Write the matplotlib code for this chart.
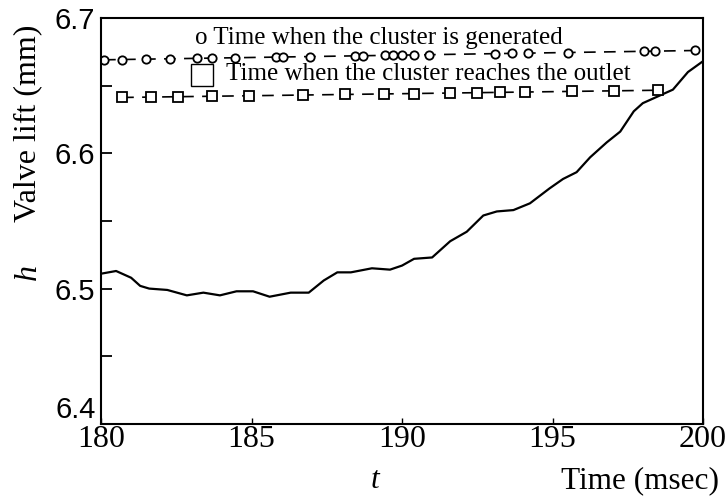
import matplotlib
matplotlib.use('Agg')
import matplotlib.pyplot as plt

# valve lift curve
t = [180.0, 180.5, 181.0, 181.3, 181.6, 182.2, 182.85, 183.4, 183.95, 184.5,
     185.05, 185.6, 186.3, 186.9, 187.4, 187.85, 188.3, 189.0, 189.6, 190.0,
     190.4, 191.0, 191.6, 192.15, 192.7, 193.15, 193.7, 194.25, 194.9, 195.35,
     195.8, 196.25, 196.8, 197.25, 197.7, 198.0, 198.5, 199.0, 199.5, 200.0]
h = [6.511, 6.513, 6.508, 6.502, 6.500, 6.499, 6.495, 6.497, 6.495, 6.498,
     6.498, 6.494, 6.497, 6.497, 6.506, 6.512, 6.512, 6.515, 6.514, 6.517,
     6.522, 6.523, 6.535, 6.542, 6.554, 6.557, 6.558, 6.563, 6.574, 6.581,
     6.586, 6.597, 6.608, 6.616, 6.631, 6.637, 6.642, 6.647, 6.660, 6.668]

# time when the cluster is generated
t_gen = [180.1, 180.7, 181.5, 182.3, 183.2, 183.7, 184.45, 185.8, 186.05, 186.95,
         188.45, 188.7, 189.45, 189.7, 190.0, 190.4, 190.9, 193.1, 193.65, 194.2,
         195.5, 198.05, 198.4, 199.75]
gen_level = [6.669, 6.676]

# time when the cluster reaches the outlet
t_out = [180.7, 181.65, 182.55, 183.7, 184.9, 186.7, 188.1, 189.4, 190.4, 191.6,
         192.5, 193.25, 194.1, 195.65, 197.05, 198.5]
out_level = [6.641, 6.647]

xticks = [180, 185, 190, 195, 200]
yticks = [6.4, 6.5, 6.6, 6.7]


def level(ts, lv):
    return [lv[0] + (x - 180) / 20 * (lv[1] - lv[0]) for x in ts]


serif = 'Liberation Serif'
fig = plt.figure(figsize=(7.27, 4.97), dpi=100)
ax = fig.add_axes([0.139, 0.147, 0.828, 0.817])

ax.plot(t, h, color='black', lw=1.6)
ax.plot(t_gen, level(t_gen, gen_level), color='black', lw=1.2, ls=(0, (7, 5)),
        marker='o', ms=6, mfc='white', mec='black', mew=1.3)
ax.plot(t_out, level(t_out, out_level), color='black', lw=1.2, ls=(0, (7, 5)),
        marker='s', ms=6.5, mfc='white', mec='black', mew=1.3)

ax.set_xlim(180, 200)
ax.set_ylim(6.4, 6.7)
ax.set_xticks(xticks)
ax.set_yticks(yticks)
ax.set_yticks([6.45, 6.55, 6.65], minor=True)
ax.set_yticklabels([str(v) for v in yticks], family='Liberation Sans', fontsize=21)
ax.set_xticklabels([str(v) for v in xticks], family=serif, fontsize=23)
ax.get_yticklabels()[0].set_va('bottom')
ax.tick_params(axis='y', which='both', direction='in', length=8, width=1.3, pad=4)
ax.tick_params(axis='x', direction='in', length=4, width=1.0, pad=1)
for s in ax.spines.values():
    s.set_linewidth(1.5)

# axis captions
fig.text(28 / 727, 1 - 123 / 497, 'Valve lift (mm)', rotation=90, ha='center',
         va='center', family=serif, fontsize=23)
fig.text(28 / 727, 1 - 272 / 497, 'h', rotation=90, ha='center', va='center',
         family=serif, style='italic', fontsize=23)
fig.text(640 / 727, 1 - 481 / 497, 'Time (msec)', ha='center', va='center',
         family=serif, fontsize=22.5)
fig.text(375 / 727, 1 - 481 / 497, 't', ha='center', va='center',
         family=serif, style='italic', fontsize=22.5)

# legend texts inside the plot
fig.text(195 / 727, 1 - 38 / 497, 'o Time when the cluster is generated',
         ha='left', va='center', family=serif, fontsize=18)
ax.plot([0.168], [0.86], transform=ax.transAxes, marker='s', ms=16,
        mfc='white', mec='black', mew=1.0, ls='none')
fig.text(226 / 727, 1 - 74 / 497, 'Time when the cluster reaches the outlet',
         ha='left', va='center', family=serif, fontsize=18)

fig.savefig('out.png', dpi=100)
